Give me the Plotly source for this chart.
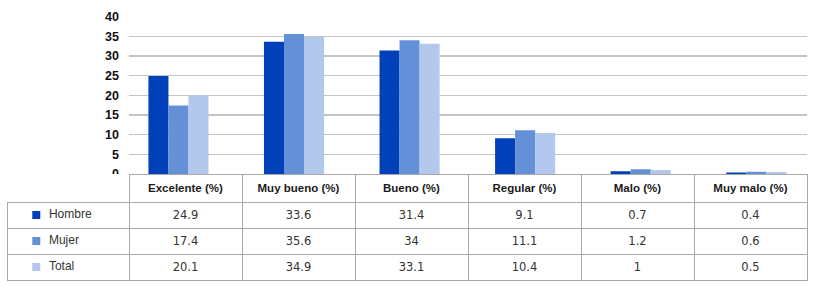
import plotly.graph_objects as go

categories = ["Excelente (%)", "Muy bueno (%)", "Bueno (%)", "Regular (%)", "Malo (%)", "Muy malo (%)"]
series_names = ["Hombre", "Mujer", "Total"]
hombre = [24.9, 33.6, 31.4, 9.1, 0.7, 0.4]
mujer = [17.4, 35.6, 34, 11.1, 1.2, 0.6]
total = [20.1, 34.9, 33.1, 10.4, 1, 0.5]
y_ticks = [0, 5, 10, 15, 20, 25, 30, 35, 40]

colors = ["#0040b8", "#6490d8", "#b4c7ec"]
series_values = [hombre, mujer, total]

W, H = 820, 286
ML, MR, MT, MB = 7, 13, 0, 0
plot_left_px, plot_right_px = 129, 807
plot_top_px, plot_bottom_px = 16.7, 174
header_h, row_h = 28, 26

pw = W - ML - MR
ph = H - MT - MB
x_dom = [(plot_left_px - ML) / pw, (plot_right_px - ML) / pw]
y_dom = [(H - MB - plot_bottom_px) / ph, (H - MB - plot_top_px) / ph]
rows_top_px = plot_bottom_px + header_h
rows_bot_px = rows_top_px + row_h * len(series_names)
leg_y_dom = [(H - MB - rows_bot_px) / ph, (H - MB - rows_top_px) / ph]

fig = go.Figure()
for name, vals, col in zip(series_names, series_values, colors):
    fig.add_trace(go.Bar(
        x=list(range(len(categories))), y=vals, name=name,
        marker=dict(color=col, line=dict(width=0)),
        showlegend=False, hoverinfo="skip",
    ))

# table
grid = "#a9a9a9"
cols = [[""] * len(series_names)]
for i in range(len(categories)):
    cols.append([f"{v[i]:g}" for v in series_values])

fig.add_trace(go.Table(
    domain=dict(x=[0, 1], y=[0, y_dom[0]]),
    columnwidth=[plot_left_px - ML] + [(plot_right_px - plot_left_px) / len(categories)] * len(categories),
    header=dict(
        values=[""] + [f"<b>{c}</b>" for c in categories],
        height=header_h,
        align="center",
        fill=dict(color="white"),
        line=dict(color=["rgba(0,0,0,0)"] + [grid] * len(categories), width=1),
        font=dict(family="Liberation Sans, Arial, sans-serif", size=11.5, color="#1a1a1a"),
    ),
    cells=dict(
        values=cols,
        height=row_h,
        align="center",
        fill=dict(color=["rgba(0,0,0,0)"] + ["white"] * len(categories)),
        line=dict(color=grid, width=1),
        font=dict(family="DejaVu Sans, sans-serif", size=11.5, color="#333333"),
    ),
))

# legend keys inside the table's first column
fig.add_trace(go.Scatter(
    x=[0] * len(series_names), y=series_names,
    mode="markers+text", text=["\u00a0\u00a0" + n for n in series_names], textposition="middle right",
    marker=dict(symbol="square", size=8, color=colors, line=dict(width=0)),
    textfont=dict(family="Liberation Sans, Arial, sans-serif", size=12, color="#333333"),
    xaxis="x2", yaxis="y2", showlegend=False, hoverinfo="skip", cliponaxis=False,
))

fig.update_layout(
    width=W, height=H,
    margin=dict(l=ML, r=MR, t=MT, b=MB, pad=0, autoexpand=False),
    paper_bgcolor="white", plot_bgcolor="rgba(0,0,0,0)",
    barmode="group", bargap=0.48, bargroupgap=0,
    hovermode=False,
    xaxis=dict(
        domain=x_dom, range=[-0.428, 5.439], automargin=False,
        showticklabels=False, showgrid=False, zeroline=False,
        showline=False, ticks="",
    ),
    yaxis=dict(
        domain=y_dom, range=[0, 40], tickvals=y_ticks, automargin=False,
        showgrid=True, gridcolor="#c4c4c4", gridwidth=1.3,
        zeroline=False, showline=False, ticks="",
        tickfont=dict(family="Liberation Sans, Arial, sans-serif", size=12.5, color="#111111", weight="bold"),
        ticklabelstandoff=9,
    ),
    xaxis2=dict(
        domain=[0, x_dom[0]], range=[-0.24, 0.76], anchor="y2", automargin=False,
        visible=False, fixedrange=True,
    ),
    yaxis2=dict(
        domain=leg_y_dom, range=[len(series_names) - 0.5, -0.5], anchor="x2", automargin=False,
        type="category", categoryorder="array", categoryarray=series_names,
        visible=False, fixedrange=True,
    ),
    font=dict(family="Liberation Sans, Arial, sans-serif"),
)

fig.write_html(
    "out.html",
    config={"displayModeBar": False, "staticPlot": True},
    post_script="document.body.style.margin='0';document.body.style.overflow='hidden';",
)
